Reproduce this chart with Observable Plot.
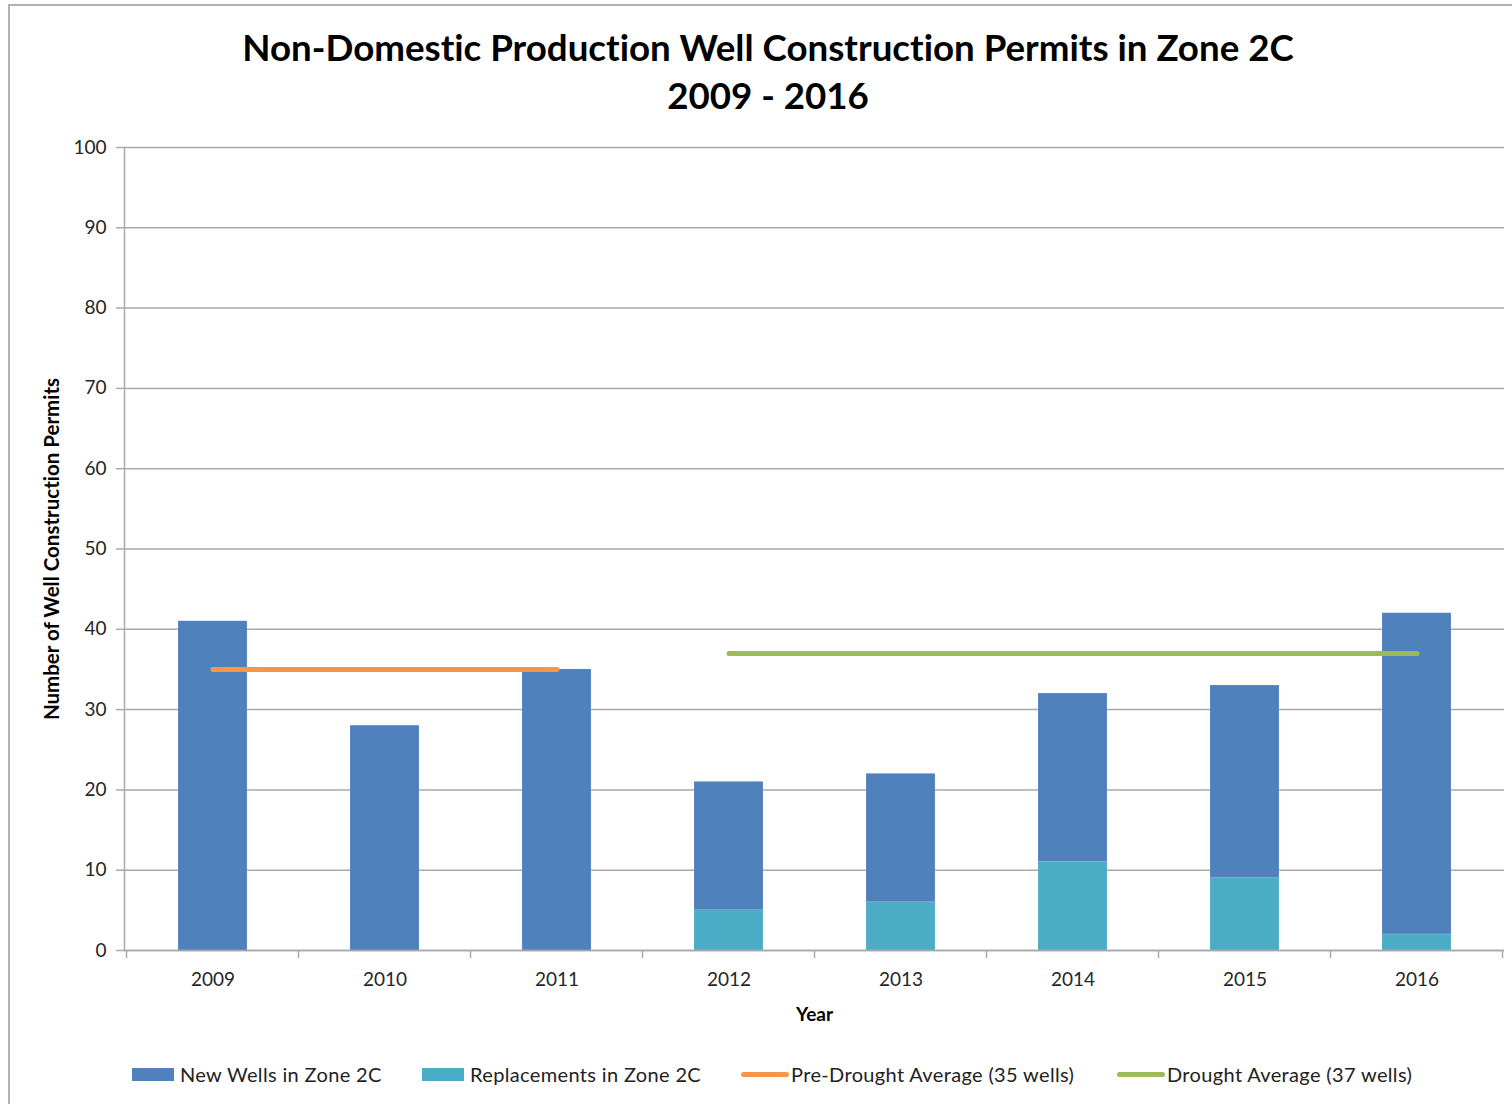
<!DOCTYPE html>
<html>
<head>
<meta charset="utf-8">
<script src="https://cdn.jsdelivr.net/npm/d3@7"></script>
<script src="https://cdn.jsdelivr.net/npm/@observablehq/plot@0.6"></script>
<style>
  body { margin: 0; background: #fff; font-family: Lato, "Open Sans", sans-serif; font-variant-ligatures: none; }
  #wrap { position: relative; width: 1512px; height: 1104px; overflow: hidden; background: #fff; }
  #border { position: absolute; left: 8px; top: 4px; width: 1530px; height: 1130px; border: 2px solid #b3b3b3; box-sizing: border-box; }
  #title { position: absolute; left: 0; top: 23px; width: 1536px; text-align: center; font-weight: bold; font-size: 36.7px; line-height: 48px; color: #000; }
  #chart { position: absolute; left: 0; top: 0; }
  #chart svg text { font-variant-ligatures: none; }
  .leg { position: absolute; top: 1063px; height: 22px; display: flex; align-items: center; font-size: 20px; letter-spacing: 0.35px; color: #222; white-space: nowrap; }
  .sw { display: inline-block; width: 42px; height: 13px; margin-right: 6px; }
  .ln { display: inline-block; width: 48px; height: 5px; border-radius: 3px; margin-right: 2px; }
</style>
</head>
<body>
<div id="wrap">
  <div id="border"></div>
  <div id="chart"></div>
  <div id="title">Non-Domestic Production Well Construction Permits in Zone 2C<br>2009 - 2016</div>
  <div id="legend"></div>
</div>
<script>
const years = ["2009", "2010", "2011", "2012", "2013", "2014", "2015", "2016"];
const newWells = [41, 28, 35, 16, 16, 21, 24, 40];
const replacements = [0, 0, 0, 5, 6, 11, 9, 2];
const preDroughtYears = ["2009", "2011"];
const preDroughtAvg = 35;
const droughtYears = ["2012", "2016"];
const droughtAvg = 37;
const yTicks = [0, 10, 20, 30, 40, 50, 60, 70, 80, 90, 100];

const seriesNames = ["Replacements in Zone 2C", "New Wells in Zone 2C"];
const colors = {
  "New Wells in Zone 2C": "#4f81bd",
  "Replacements in Zone 2C": "#4bacc6",
  "Pre-Drought Average (35 wells)": "#f79646",
  "Drought Average (37 wells)": "#9bbb59"
};

const stacked = [];
years.forEach((y, i) => {
  stacked.push({year: y, series: "Replacements in Zone 2C", value: replacements[i]});
  stacked.push({year: y, series: "New Wells in Zone 2C", value: newWells[i]});
});
const avgLines = [
  ...preDroughtYears.map(y => ({year: y, value: preDroughtAvg, series: "Pre-Drought Average (35 wells)"})),
  ...droughtYears.map(y => ({year: y, value: droughtAvg, series: "Drought Average (37 wells)"}))
];

const gridColor = "#a9a9a9";
const textColor = "#262626";

// category boundary ticks below the x axis, placed through the x scale
function boundaryTicks(index, scales, values, dims) {
  const x = scales.x;
  const step = x.step ? x.step() : (dims.width - dims.marginLeft - dims.marginRight) / years.length;
  const bw = x.bandwidth ? x.bandwidth() : 0;
  const half = (step - bw) / 2;
  const y0 = scales.y(0);
  const g = d3.create("svg:g");
  const xs = years.map(y => x(y) - half);
  xs.push(x(years[years.length - 1]) + bw + half);
  for (const px of xs) {
    g.append("line").attr("x1", px).attr("x2", px).attr("y1", y0).attr("y2", y0 + 8)
      .attr("stroke", gridColor).attr("stroke-width", 1.5);
  }
  return g.node();
}

const chart = Plot.plot({
  width: 1512,
  height: 1104,
  marginTop: 147,
  marginBottom: 154,
  marginLeft: 124,
  marginRight: 8,
  style: {fontFamily: "Lato, 'Open Sans', sans-serif", background: "transparent", overflow: "visible"},
  x: {domain: years, paddingInner: 0.6, paddingOuter: 0.3, label: null},
  y: {domain: [0, 100], label: null},
  color: {domain: Object.keys(colors), range: Object.values(colors)},
  marks: [
    Plot.gridY(yTicks, {stroke: gridColor, strokeOpacity: 1, strokeWidth: 1.5}),
    Plot.barY(stacked, Plot.stackY({x: "year", y: "value", fill: "series", order: seriesNames, stroke: "#fff", strokeOpacity: 0.25, strokeWidth: 0.5})),
    Plot.ruleY([0], {stroke: gridColor, strokeWidth: 1.5}),
    Plot.frame({anchor: "left", stroke: gridColor, strokeWidth: 1.5}),
    boundaryTicks,
    Plot.line(avgLines, {x: "year", y: "value", z: "series", stroke: "series", strokeWidth: 5, strokeLinecap: "round"}),
    Plot.axisY(yTicks, {tickSize: 8, tickPadding: 10, stroke: gridColor, strokeWidth: 1.5, fontSize: 19, fill: textColor, label: null}),
    Plot.axisX({tickSize: 0, tickPadding: 22, fontSize: 19, fill: textColor, label: null}),
    Plot.text(["Year"], {frameAnchor: "bottom", dy: 70, fontSize: 19, fontWeight: "bold", fill: "#000"}),
    Plot.text(["Number of Well Construction Permits"], {frameAnchor: "left", textAnchor: "middle", dx: -72, rotate: -90, fontSize: 20.5, fontWeight: "bold", fill: "#000"})
  ]
});
document.getElementById("chart").appendChild(chart);

// legend
const legendItems = [
  {name: "New Wells in Zone 2C", kind: "rect", left: 132},
  {name: "Replacements in Zone 2C", kind: "rect", left: 422},
  {name: "Pre-Drought Average (35 wells)", kind: "line", left: 741},
  {name: "Drought Average (37 wells)", kind: "line", left: 1117}
];
const legend = document.getElementById("legend");
for (const it of legendItems) {
  const d = document.createElement("div");
  d.className = "leg";
  d.style.left = it.left + "px";
  const s = document.createElement("span");
  s.className = it.kind === "rect" ? "sw" : "ln";
  s.style.background = colors[it.name];
  d.appendChild(s);
  d.appendChild(document.createTextNode(it.name));
  legend.appendChild(d);
}
</script>
</body>
</html>
